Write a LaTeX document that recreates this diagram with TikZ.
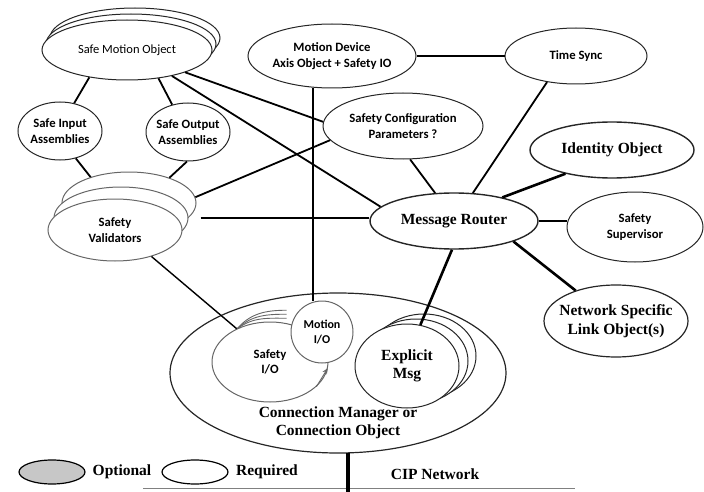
\documentclass[tikz,border=0pt]{standalone}
\usepackage{fontspec}
\setmainfont{Liberation Serif}
\newfontfamily\calibri{Carlito}
\usetikzlibrary{shapes.geometric,arrows.meta}

\begin{document}
\begin{tikzpicture}[x=1pt,y=1pt]
\tikzstyle{every node}+=[inner sep=0pt]
\tikzstyle{obj}=[ellipse, draw=black!85, fill=white, line width=1pt, inner xsep=-8pt]
\tikzstyle{sans}=[font=\calibri\fontsize{12.7}{15.5}\selectfont\bfseries, align=center]
\tikzstyle{sanslight}=[font=\calibri\fontsize{12.5}{15.5}\selectfont, align=center]
\tikzstyle{serif}=[font=\fontsize{15.5}{18.5}\selectfont\bfseries, align=center]
\tikzstyle{link}=[line width=1.8pt]
\tikzstyle{heavy}=[line width=2.6pt]
\useasboundingbox (0,0) rectangle (704,-492);
\node [obj, minimum width=170, minimum height=60] (smo3) at (135,-38) {};
\node [obj, minimum width=170, minimum height=60] (smo2) at (131,-44) {};
\node [obj, sanslight, minimum width=170, minimum height=60] (smo) at (127,-50) {Safe Motion Object};
\node [obj, sans, minimum width=168, minimum height=64] (md) at (332,-56) {Motion Device\\Axis Object + Safety IO};
\node [obj, sans, minimum width=142, minimum height=56] (ts) at (576,-56) {Time Sync};
\node [obj, sans, minimum width=84, minimum height=58] (sia) at (60,-131) {Safe Input\\Assemblies};
\node [obj, sans, minimum width=84, minimum height=58] (soa) at (188,-132) {Safe Output\\Assemblies};
\node [obj, sans, minimum width=160, minimum height=66] (scp) at (403,-126) {Safety Configuration\\Parameters ?};
\node [obj, serif, line width=1.4pt, minimum width=164, minimum height=56] (io) at (612,-150) {Identity Object};
\node [obj, draw=black!60, minimum width=134, minimum height=62] (sv3) at (129,-203) {};
\node [obj, draw=black!60, minimum width=134, minimum height=62] (sv2) at (121,-218) {};
\node [obj, sans, draw=black!60, minimum width=134, minimum height=62] (sv) at (115,-230) {Safety\\Validators};
\node [obj, serif, line width=1.4pt, minimum width=168, minimum height=56] (mr) at (454,-221) {Message Router};
\node [obj, sans, minimum width=136, minimum height=70] (ss) at (635,-227) {Safety\\Supervisor};
\node [obj, serif, line width=1.2pt, minimum width=144, minimum height=72] (nslo) at (616,-321) {Network Specific\\Link Object(s)};
\node [obj, line width=1.2pt, minimum width=336, minimum height=160] (cm) at (338,-373) {};
\node [serif] (cmlab) at (338,-423) {Connection Manager or\\Connection Object};
\foreach \d/\a in {19/50,15/44,11/38}
  \draw [black!60, line width=0.9pt] (270,-362) ++(125:58 and 40) to [out=\a,in=180] ++(50,\d);
\node [obj, sans, draw=black!60, minimum width=116, minimum height=80] (sio) at (270,-362) {Safety\\I/O};
\draw [black!60, line width=0.9pt, -{Stealth[length=6pt,width=5pt]}] (sio.-28) -- (sio.-6);
\node [circle, draw=black!60, fill=white, line width=1pt, minimum size=62, sans, font=\calibri\fontsize{12}{14.5}\selectfont\bfseries] (mio) at (322,-332) {Motion\\I/O};
\node [obj, minimum width=104, minimum height=84] (em3) at (424,-356) {};
\node [obj, minimum width=104, minimum height=84] (em2) at (416,-361) {};
\node [obj, serif, minimum width=104, minimum height=84] (em) at (407,-366) {Explicit\\Msg};
\draw [link] (smo.-144) -- (sia.63);
\draw [link] (smo.-42) -- (soa.120);
\draw [link] (sia.-60) -- (sv3.146);
\draw [link] (soa.-92) -- (sv3.32);
\draw [link] (smo.-21) -- (scp.177);
\draw [link] (smo.-30) -- (mr.169);
\draw [link] (sv3.5) -- (scp.-169);
\draw [link, shorten <=12pt] (sv2.east) -- (sv2.east -| mr.west);
\draw [heavy] (md.east) -- (ts.west);
\draw [line width=1.4pt] (md.-121) -- (md.-121 |- mio.north);
\draw [link] (ts.-138) -- (mr.56);
\draw [link] (scp.-78) -- (mr.124);
\draw [heavy] (mr.26) -- (io.-153);
\draw [heavy] (mr.east) -- (mr.east -| ss.west);
\draw [heavy] (mr.-19) -- (nslo.143);
\draw [heavy] (mr.-94) -- (em.72);
\draw [line width=1.4pt] (sv.-36) -- (sio.135);
\coordinate (cipbot) at (0,-492);
\coordinate (netl) at (143,-488);
\coordinate (netr) at (575,-488);
\draw [black!50, line width=0.8pt] (netl) -- (netr);
\draw [line width=4pt] (cm.-83) -- (cm.-83 |- cipbot);
\node [serif] (ciplab) at (435,-474) {CIP Network};
\node [ellipse, draw, fill=black!22, line width=1.2pt, minimum width=66, minimum height=24] (opt) at (52,-472) {};
\node [serif] (optlab) at (122,-472) {Optional};
\node [ellipse, draw, line width=1.2pt, minimum width=66, minimum height=24] (req) at (195,-472) {};
\node [serif] (reqlab) at (267,-472) {Required};
\end{tikzpicture}
\end{document}
